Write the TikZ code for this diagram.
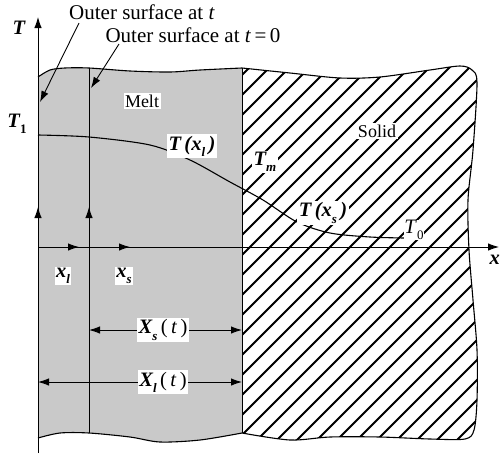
\documentclass[tikz,border=0pt]{standalone}
\usepackage{fontspec}
\setmainfont{Liberation Serif}
\usetikzlibrary{arrows.meta}
\newcommand{\bi}[1]{{\bfseries\itshape #1}}
\newcommand{\mysb}[1]{\raisebox{-0.3em}{\fontsize{13}{13}\selectfont #1}}
\begin{document}
\begin{tikzpicture}[x=1pt,y=-1pt,
  every node/.style={font=\fontsize{18}{20}\selectfont, inner sep=1.5pt},
  lbl/.style={fill=white},
  math/.style={font=\fontsize{20.5}{22}\selectfont},
  big/.style={font=\fontsize{21}{24}\selectfont},
  arr/.style={-{Latex[length=11pt,width=7.5pt]}, line width=0.9pt},
  darr/.style={{Latex[length=11pt,width=7.5pt]}-{Latex[length=11pt,width=7.5pt]}, line width=0.9pt},
  outline/.style={line width=1.1pt},
  hatchline/.style={line width=1.8pt}]
\useasboundingbox (0,0) rectangle (500,453);
% melt region
\fill[gray!42] plot[smooth] coordinates {(38,77) (50,70) (65,68) (89,68) (130,71) (170,72) (200,70) (242,68)}
  -- (242,433) -- plot[smooth] coordinates {(242,433) (200,440) (160,442) (130,437) (89,433) (60,433) (38,438)} -- cycle;
% solid region hatching
\def\solidpath{(242,68) -- plot[smooth] coordinates {(242,68) (290,73) (340,78) (380,77) (430,70) (460,66) (472,70) (477,83) (473,150) (468,200) (469,250) (473,300) (477,350) (477,400) (474,430) (465,439) (430,439) (380,437) (330,437) (290,440) (242,433)} -- cycle}
\begin{scope}
  \clip \solidpath;
  \foreach \x in {-163,-143,...,477} \draw[hatchline] (\x-20,460) -- (\x+400,40);
\end{scope}
% outlines
\draw[outline] plot[smooth] coordinates {(38,77) (50,70) (65,68) (89,68) (130,71) (170,72) (200,70) (242,68)};
\draw[outline] plot[smooth] coordinates {(242,433) (200,440) (160,442) (130,437) (89,433) (60,433) (38,438)};
\draw[outline] plot[smooth] coordinates {(242,68) (290,73) (340,78) (380,77) (430,70) (460,66) (472,70) (477,83) (473,150) (468,200) (469,250) (473,300) (477,350) (477,400) (474,430) (465,439) (430,439) (380,437) (330,437) (290,440) (242,433)};
\draw[line width=1pt] (242,68) -- (242,433);
% surface at t=0
\coordinate (s0top) at (89,68);
\coordinate (s0bot) at (89,433);
\draw[line width=1pt] (s0top) -- (s0bot);
% axes
\coordinate (O) at (38,247);
\coordinate (Tbot) at (38,453);
\coordinate (Ttip) at (38,17);
\coordinate (xtip) at (499,247);
\coordinate (O2) at (89,247);
\draw[arr] (Tbot) -- (Ttip);
\draw[arr] (O) -- (xtip);
\draw[arr] (O) -- (38,207);
\draw[arr] (O2) -- (89,207);
\draw[arr] (O) -- (79,247);
\draw[arr] (O2) -- (130,247);
% temperature curve
\draw[line width=1.1pt] plot[smooth] coordinates {(38,135) (89,137) (150,145) (190,160) (230,182) (263,200) (297,222) (330,233) (370,237) (405,238)};
% labels
\node[math] (Tlab) at (19,28) {\bi{T}};
\node[math] (T1) at (17,124) {\bi{T}\mysb{\bfseries 1}};
\node[lbl] (melt) at (142,101) {Melt};
\node[lbl] (solid) at (377,131) {Solid};
\node[lbl,math] (Txl) at (192,146) {\bi{T}\,\bi{(}\bi{x}\mysb{\bi{l}}\,\bi{)}};
\node[lbl,math] (Tm) at (265,162) {\bi{T}\mysb{\bi{m}}};
\node[lbl,math] (Txs) at (323,213) {\bi{T}\,\bi{(}\bi{x}\mysb{\bi{s}}\,\bi{)}};
\node[lbl,math,inner sep=0.5pt] (T0) at (414,230) {\textit{T}\mysb{0}};
\node[lbl,math] (xl) at (63,276) {\bi{x}\mysb{\bi{l}}};
\node[lbl,math] (xs) at (124,276) {\bi{x}\mysb{\bi{s}}};
\node[math,anchor=east,inner sep=0pt] (xlab) at (500,260) {\bi{x}};
% dimension arrows
\coordinate (dsL) at (89,330);
\coordinate (dsR) at (242,330);
\coordinate (dlL) at (38,382);
\coordinate (dlR) at (242,382);
\draw[darr] (dsL) -- (dsR);
\draw[darr] (dlL) -- (dlR);
\node[lbl,math] (Xs) at (163,330) {\bi{X}\mysb{\bi{s}}\,(\,\textit{t}\,)};
\node[lbl,math] (Xl) at (163,382) {\bi{X}\mysb{\bi{l}}\,(\,\textit{t}\,)};
% outer surface labels
\node[big] (os1) at (142,12) {Outer surface at \textit{t}};
\node[big] (os2) at (193,35) {Outer surface at \textit{t}\,=\,0};
\coordinate (a1) at (40,102);
\coordinate (a2) at (91,88);
\draw[arr] (79,23) -- (a1);
\draw[arr] (119,44) -- (a2);
\end{tikzpicture}
\end{document}
